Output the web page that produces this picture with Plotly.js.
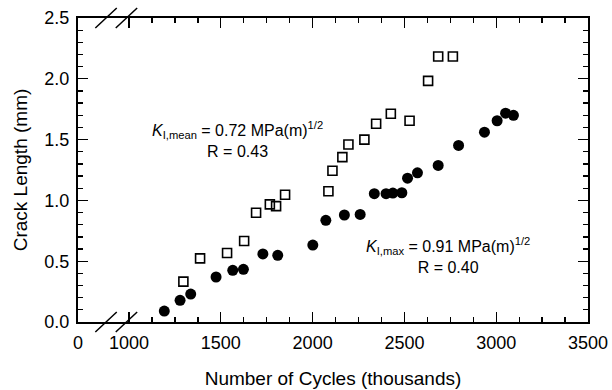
<!DOCTYPE html>
<html>
<head>
<meta charset="utf-8">
<script src="https://cdn.plot.ly/plotly-3.0.1.min.js"></script>
<style>
html, body { margin: 0; padding: 0; background: #fff; }
#chart { width: 612px; height: 390px; }
</style>
</head>
<body>
<div id="chart"></div>
<script>
// K_I,max series (filled circles)
const maxCycles = [1192, 1278, 1336, 1474, 1565, 1623, 1729, 1810, 2001, 2072, 2173, 2259, 2336, 2400, 2437, 2486, 2517, 2571, 2684, 2795, 2936, 3005, 3051, 3094];
const maxCrack  = [0.09, 0.178, 0.23, 0.37, 0.425, 0.433, 0.56, 0.548, 0.633, 0.836, 0.88, 0.885, 1.055, 1.055, 1.06, 1.063, 1.183, 1.227, 1.288, 1.452, 1.561, 1.655, 1.717, 1.70];

// K_I,mean series (open squares)
const meanCycles = [1296, 1387, 1534, 1627, 1692, 1767, 1801, 1850, 2086, 2108, 2162, 2195, 2282, 2346, 2426, 2528, 2629, 2684, 2764];
const meanCrack  = [0.332, 0.523, 0.567, 0.666, 0.899, 0.967, 0.953, 1.047, 1.075, 1.244, 1.356, 1.46, 1.50, 1.63, 1.712, 1.655, 1.983, 2.183, 2.183];

// Axis ticks (broken axis: "0" sits at the left edge of the frame)
const xBreakStart = 722;
const xTickVals = [xBreakStart, 1000, 1500, 2000, 2500, 3000, 3500];
const xTickText = ['0', '1000', '1500', '2000', '2500', '3000', '3500'];
const xMinorVals = [];
for (let v = 1125; v < 3500; v += 125) { if (v % 500 !== 0) xMinorVals.push(v); }
const yTickVals = [0, 0.5, 1.0, 1.5, 2.0, 2.5];

const FONT = 'Liberation Sans, Arial, Helvetica, sans-serif';

const traces = [
  {
    x: maxCycles, y: maxCrack, type: 'scatter', mode: 'markers', name: 'K I,max',
    marker: { symbol: 'circle', size: 11, color: '#000' }
  },
  {
    x: meanCycles, y: meanCrack, type: 'scatter', mode: 'markers', name: 'K I,mean',
    marker: { symbol: 'square-open', size: 9, color: '#000', line: { width: 1.6, color: '#000' } }
  }
];

const axisCommon = {
  showline: true, linecolor: '#000', linewidth: 2, mirror: 'allticks',
  ticks: 'inside', ticklen: 10, tickwidth: 1.3, tickcolor: '#000',
  showgrid: false, zeroline: false,
  tickfont: { family: FONT, size: 18, color: '#000' }
};

const slash = (x0, x1, y0, y1) => ({
  type: 'line', xref: 'paper', yref: 'paper', x0: x0, x1: x1, y0: y0, y1: y1,
  line: { color: '#000', width: 1.5 }
});

const layout = {
  width: 612, height: 390,
  margin: { l: 78, r: 24, t: 18, b: 68 },
  paper_bgcolor: '#fff', plot_bgcolor: '#fff',
  showlegend: false,
  font: { family: FONT, color: '#000' },
  xaxis: Object.assign({}, axisCommon, {
    range: [xBreakStart, 3500],
    tickmode: 'array', tickvals: xTickVals, ticktext: xTickText,
    ticklabelstandoff: 3,
    minor: { tickmode: 'array', tickvals: xMinorVals, ticks: 'inside', ticklen: 5, tickwidth: 1.3, tickcolor: '#000', showgrid: false },
    title: { text: 'Number of Cycles (thousands)', font: { family: FONT, size: 19, color: '#000' }, standoff: 20 }
  }),
  yaxis: Object.assign({}, axisCommon, {
    range: [0, 2.5],
    tickmode: 'array', tickvals: yTickVals, tickformat: '.1f',
    ticklabelstandoff: 3,
    minor: { tick0: 0, dtick: 0.1, ticks: 'inside', ticklen: 5, tickwidth: 1.3, tickcolor: '#000', showgrid: false },
    title: { text: 'Crack Length (mm)', font: { family: FONT, size: 19, color: '#000' }, standoff: 12 }
  }),
  shapes: [
    slash(0.034, 0.076, -0.033, 0.033),
    slash(0.074, 0.116, -0.033, 0.033),
    slash(0.034, 0.076, 0.967, 1.033),
    slash(0.074, 0.116, 0.967, 1.033)
  ],
  annotations: [
    {
      x: 1589, y: 1.50, xref: 'x', yref: 'y', showarrow: false, align: 'center',
      text: '<i>K</i><sub>I,mean</sub> = 0.72 MPa(m)<sup>1/2</sup><br>R = 0.43',
      font: { family: FONT, size: 16, color: '#000' }
    },
    {
      x: 2738, y: 0.548, xref: 'x', yref: 'y', showarrow: false, align: 'center',
      text: '<i>K</i><sub>I,max</sub> = 0.91 MPa(m)<sup>1/2</sup><br>R = 0.40',
      font: { family: FONT, size: 16, color: '#000' }
    }
  ]
};

Plotly.newPlot('chart', traces, layout, { staticPlot: true, displayModeBar: false });
</script>
</body>
</html>
